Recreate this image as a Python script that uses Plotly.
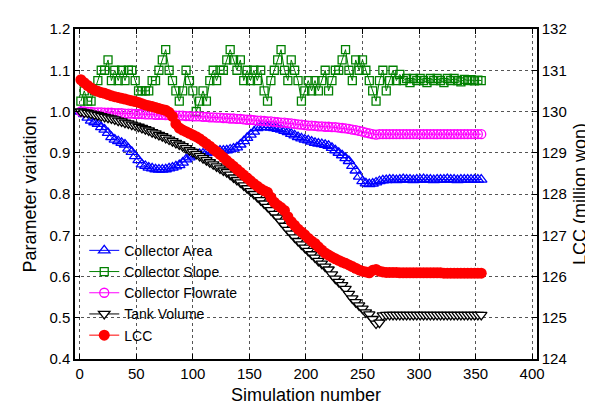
import plotly.graph_objects as go

# Simulation numbers (every 3rd simulation)
sim = list(range(1, 356, 3))

collector_area = [
    1.000, 0.994, 0.985, 0.978, 0.974, 0.970, 0.962, 0.956, 0.948, 0.938,
    0.932, 0.928, 0.924, 0.920, 0.910, 0.902, 0.892, 0.882, 0.872, 0.868,
    0.864, 0.862, 0.860, 0.859, 0.859, 0.860, 0.862, 0.864, 0.867, 0.870,
    0.876, 0.884, 0.889, 0.893, 0.896, 0.897, 0.898, 0.899, 0.901, 0.903,
    0.904, 0.905, 0.905, 0.906, 0.908, 0.910, 0.913, 0.920, 0.928, 0.936,
    0.944, 0.951, 0.960, 0.962, 0.962, 0.962, 0.961, 0.960, 0.958, 0.956,
    0.953, 0.950, 0.946, 0.942, 0.938, 0.935, 0.932, 0.930, 0.927, 0.924,
    0.922, 0.921, 0.919, 0.917, 0.912, 0.906, 0.900, 0.894, 0.887, 0.880,
    0.868, 0.857, 0.842, 0.831, 0.826, 0.824, 0.825, 0.828, 0.831, 0.833,
    0.834, 0.835, 0.835, 0.834, 0.835, 0.836, 0.835, 0.835, 0.834, 0.835,
    0.835, 0.836, 0.835, 0.835, 0.834, 0.835, 0.835, 0.835, 0.836, 0.835,
    0.835, 0.834, 0.835, 0.835, 0.835, 0.835, 0.835, 0.835, 0.835,
]

collector_slope = [
    1.025, 1.050, 1.025, 1.025, 1.050, 1.075, 1.100, 1.100, 1.125, 1.075,
    1.100, 1.075, 1.100, 1.075, 1.100, 1.100, 1.075, 1.050, 1.050, 1.050,
    1.050, 1.075, 1.075, 1.100, 1.125, 1.150, 1.100, 1.075, 1.050, 1.025,
    1.050, 1.100, 1.075, 1.050, 1.000, 1.025, 1.050, 1.025, 1.075, 1.100,
    1.075, 1.100, 1.100, 1.125, 1.150, 1.125, 1.100, 1.125, 1.075, 1.100,
    1.075, 1.100, 1.075, 1.100, 1.050, 1.025, 1.075, 1.100, 1.125, 1.150,
    1.100, 1.075, 1.125, 1.100, 1.075, 1.025, 1.050, 1.075, 1.050, 1.075,
    1.050, 1.075, 1.100, 1.050, 1.075, 1.100, 1.100, 1.125, 1.150, 1.100,
    1.075, 1.125, 1.100, 1.125, 1.100, 1.075, 1.050, 1.025, 1.075, 1.100,
    1.050, 1.075, 1.100, 1.075, 1.090, 1.075, 1.080, 1.070, 1.080, 1.075,
    1.080, 1.075, 1.070, 1.080, 1.075, 1.080, 1.075, 1.070, 1.080, 1.075,
    1.080, 1.075, 1.072, 1.078, 1.075, 1.077, 1.074, 1.076, 1.075,
]

collector_flowrate = [
    1.000, 1.000, 0.999, 0.999, 0.998, 0.998, 0.998, 0.997, 0.997, 0.997,
    0.996, 0.996, 0.996, 0.995, 0.995, 0.995, 0.994, 0.994, 0.994, 0.993,
    0.993, 0.993, 0.992, 0.992, 0.992, 0.991, 0.991, 0.991, 0.990, 0.990,
    0.990, 0.989, 0.989, 0.988, 0.988, 0.988, 0.987, 0.987, 0.986, 0.986,
    0.985, 0.985, 0.984, 0.984, 0.983, 0.983, 0.982, 0.982, 0.981, 0.980,
    0.980, 0.979, 0.978, 0.978, 0.977, 0.976, 0.976, 0.975, 0.974, 0.973,
    0.973, 0.972, 0.971, 0.970, 0.969, 0.968, 0.967, 0.966, 0.966, 0.965,
    0.964, 0.964, 0.963, 0.963, 0.962, 0.962, 0.961, 0.960, 0.959, 0.958,
    0.956, 0.955, 0.953, 0.951, 0.949, 0.947, 0.945, 0.944, 0.945, 0.945,
    0.945, 0.945, 0.945, 0.945, 0.945, 0.945, 0.945, 0.945, 0.945, 0.945,
    0.945, 0.945, 0.945, 0.945, 0.945, 0.945, 0.945, 0.945, 0.945, 0.945,
    0.945, 0.945, 0.945, 0.945, 0.945, 0.945, 0.945, 0.945, 0.945,
]

tank_volume = [
    1.000, 0.998, 0.997, 0.995, 0.993, 0.991, 0.989, 0.987, 0.985, 0.983,
    0.981, 0.978, 0.976, 0.973, 0.971, 0.968, 0.966, 0.963, 0.960, 0.957,
    0.954, 0.950, 0.947, 0.943, 0.940, 0.936, 0.932, 0.928, 0.924, 0.920,
    0.916, 0.911, 0.906, 0.902, 0.897, 0.892, 0.887, 0.882, 0.877, 0.872,
    0.867, 0.862, 0.857, 0.853, 0.847, 0.840, 0.834, 0.828, 0.821, 0.814,
    0.807, 0.800, 0.793, 0.785, 0.777, 0.769, 0.761, 0.752, 0.743, 0.733,
    0.723, 0.713, 0.704, 0.695, 0.686, 0.678, 0.670, 0.662, 0.654, 0.646,
    0.638, 0.631, 0.624, 0.617, 0.605, 0.595, 0.587, 0.579, 0.570, 0.558,
    0.547, 0.538, 0.530, 0.522, 0.513, 0.508, 0.497, 0.486, 0.488, 0.506,
    0.507, 0.507, 0.507, 0.507, 0.507, 0.507, 0.507, 0.507, 0.507, 0.507,
    0.507, 0.507, 0.507, 0.507, 0.507, 0.507, 0.507, 0.507, 0.507, 0.507,
    0.507, 0.507, 0.507, 0.507, 0.507, 0.507, 0.507, 0.507, 0.507,
]

lcc = [
    130.77, 130.70, 130.63, 130.57, 130.52, 130.49, 130.46, 130.44, 130.41, 130.38,
    130.36, 130.34, 130.32, 130.30, 130.28, 130.26, 130.24, 130.22, 130.19, 130.16,
    130.14, 130.12, 130.10, 130.07, 130.05, 130.03, 129.98, 129.88, 129.70, 129.60,
    129.55, 129.51, 129.47, 129.43, 129.39, 129.34, 129.28, 129.22, 129.16, 129.09,
    129.03, 128.96, 128.89, 128.81, 128.74, 128.67, 128.60, 128.53, 128.46, 128.39,
    128.32, 128.25, 128.19, 128.13, 128.08, 128.04, 127.92, 127.80, 127.73, 127.67,
    127.60, 127.45, 127.33, 127.24, 127.15, 127.08, 127.01, 126.93, 126.86, 126.80,
    126.72, 126.64, 126.57, 126.52, 126.47, 126.43, 126.39, 126.35, 126.32, 126.28,
    126.24, 126.20, 126.16, 126.13, 126.11, 126.09, 126.15, 126.17, 126.13, 126.11,
    126.10, 126.10, 126.10, 126.10, 126.09, 126.09, 126.09, 126.09, 126.09, 126.09,
    126.09, 126.09, 126.09, 126.09, 126.09, 126.09, 126.09, 126.08, 126.08, 126.08,
    126.08, 126.08, 126.08, 126.08, 126.08, 126.08, 126.08, 126.08, 126.08,
]

x_ticks = [0, 50, 100, 150, 200, 250, 300, 350, 400]
left_ticks = [0.4, 0.5, 0.6, 0.7, 0.8, 0.9, 1.0, 1.1, 1.2]
right_ticks = [124, 125, 126, 127, 128, 129, 130, 131, 132]

FONT = "Liberation Sans, Arial, sans-serif"

fig = go.Figure()

fig.add_trace(go.Scatter(
    x=sim, y=collector_area, name="Collector Area", mode="lines+markers",
    line=dict(color="#0000FF", width=1),
    marker=dict(symbol="triangle-up-open", size=10, color="#0000FF", line=dict(width=1.3)),
))
fig.add_trace(go.Scatter(
    x=sim, y=collector_slope, name="Collector Slope", mode="lines+markers",
    line=dict(color="#008000", width=1),
    marker=dict(symbol="square-open", size=8, color="#008000", line=dict(width=1.3)),
))
fig.add_trace(go.Scatter(
    x=sim, y=collector_flowrate, name="Collector Flowrate", mode="lines+markers",
    line=dict(color="#FF00FF", width=1),
    marker=dict(symbol="circle-open", size=9, color="#FF00FF", line=dict(width=1.3)),
))
fig.add_trace(go.Scatter(
    x=sim, y=tank_volume, name="Tank Volume", mode="lines+markers",
    line=dict(color="#000000", width=1),
    marker=dict(symbol="triangle-down", size=10, color="#FFFFFF",
                line=dict(color="#000000", width=1.3)),
))
fig.add_trace(go.Scatter(
    x=sim, y=lcc, name="LCC", mode="lines+markers", yaxis="y2",
    line=dict(color="#FF0000", width=1),
    marker=dict(symbol="circle", size=11, color="#FF0000"),
))

axis_common = dict(
    showline=True, linecolor="black", linewidth=1.5,
    ticks="inside", ticklen=5, tickcolor="black",
    tickfont=dict(family=FONT, size=15, color="black"),
    zeroline=False,
)

fig.update_layout(
    width=593, height=409,
    margin=dict(l=67, r=64, t=15, b=58),
    paper_bgcolor="white", plot_bgcolor="white",
    font=dict(family=FONT, color="black"),
    showlegend=True,
    legend=dict(
        x=0.02, y=0.025, xanchor="left", yanchor="bottom",
        bgcolor="rgba(0,0,0,0)", borderwidth=0,
        font=dict(family=FONT, size=14, color="black"),
        tracegroupgap=0,
    ),
    xaxis=dict(
        range=[-4.2, 404.3], tickvals=x_ticks, mirror="ticks",
        showgrid=True, gridcolor="#555555", griddash="dot", gridwidth=1,
        title=dict(text="Simulation number", font=dict(family=FONT, size=18), standoff=8),
        **axis_common,
    ),
    yaxis=dict(
        range=[0.4, 1.2], tickvals=left_ticks, tickformat=".1f", mirror=True,
        showgrid=True, gridcolor="#555555", griddash="dot", gridwidth=1,
        title=dict(text="Parameter variation", font=dict(family=FONT, size=18), standoff=8),
        **axis_common,
    ),
    yaxis2=dict(
        range=[124, 132], tickvals=right_ticks, overlaying="y", side="right",
        showgrid=False,
        title=dict(text="LCC (million won)", font=dict(family=FONT, size=18), standoff=8),
        **axis_common,
    ),
)

fig.write_html("out.html")
